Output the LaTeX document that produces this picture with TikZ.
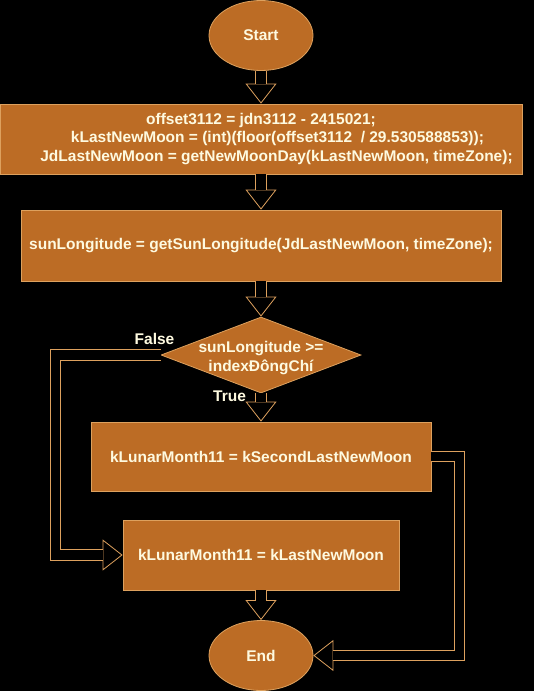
\documentclass[tikz,border=0pt]{standalone}
\usepackage{fontspec}
\setmainfont{Liberation Sans}
\usetikzlibrary{shapes.geometric,arrows.meta}

\definecolor{boxfill}{HTML}{BC6C25}
\definecolor{boxline}{HTML}{DDA15E}
\definecolor{boxtext}{HTML}{FEFAE0}

\tikzset{
  block/.style={draw=boxline, fill=boxfill, text=boxtext, line width=0.8pt,
    font=\bfseries\fontsize{15.5pt}{18.5pt}\selectfont, align=center, inner sep=0pt},
  terminal/.style={block, ellipse, minimum width=104pt, minimum height=70pt},
  process/.style={block, rectangle, minimum height=70pt},
  decision/.style={block, diamond, minimum width=200pt, minimum height=76pt},
  tag/.style={text=boxtext, font=\bfseries\fontsize{15.5pt}{18.5pt}\selectfont, inner sep=0pt},
  flowtip/.style={draw=black, line width=0.8pt,
    -{Triangle[length=20pt, width=31pt, line width=0.8pt, color=boxline, fill=black]}},
  flowshaft/.style={draw=boxline, double=black, line width=0.8pt, double distance=9.7pt, shorten >=19.5pt},
  flow/.style={draw=none, postaction={flowtip}, postaction={flowshaft}}
}

\begin{document}
\begin{tikzpicture}[x=1pt, y=-1pt]

    % Background
    \fill[black] (0,0) rectangle (534,691);
    \useasboundingbox (0,0) rectangle (534,691);

    % Steps
    \node[terminal] (start) at (261,35.5) {Start};
    \node[process, minimum width=522pt] (setup) at (261,139) {offset3112 = jdn3112 - 2415021;\\
      \hspace*{33pt}kLastNewMoon = (int)(floor(offset3112\ \ / 29.530588853));\\
      \hspace*{31pt}JdLastNewMoon = getNewMoonDay(kLastNewMoon, timeZone);};
    \node[process, minimum width=480pt, minimum height=71pt] (sunlon) at (261,245.5) {sunLongitude = getSunLongitude(JdLastNewMoon, timeZone);};
    \node[decision, label={[tag, align=center, yshift=-3pt]center:{sunLongitude >=\\indexĐôngChí}}] (check) at (261,355) {};
    \node[process, minimum width=340pt, minimum height=69pt] (second) at (261,456.5) {kLunarMonth11 = kSecondLastNewMoon};
    \node[process, minimum width=276pt] (last) at (261,555) {kLunarMonth11 = kLastNewMoon};
    \node[terminal] (stop) at (261,655.5) {End};

    % Branch labels
    \node[tag] (nofalse) at (154.5,339) {False};
    \node[tag] (yestrue) at (229.5,396) {True};

    % Main flow
    \path[flow] (start) -- (setup);
    \path[flow] (setup) -- (sunlon);
    \path[flow] (sunlon) -- (check);
    \path[flow] (check) -- (second);
    \path[flow] (last) -- (stop);

    % False branch
    \path[flow] (check.west) -- ++(-105,0) |- (last.west);

    % True branch
    \path[flow] (second.east) -- ++(28,0) |- (stop.east);

\end{tikzpicture}
\end{document}
